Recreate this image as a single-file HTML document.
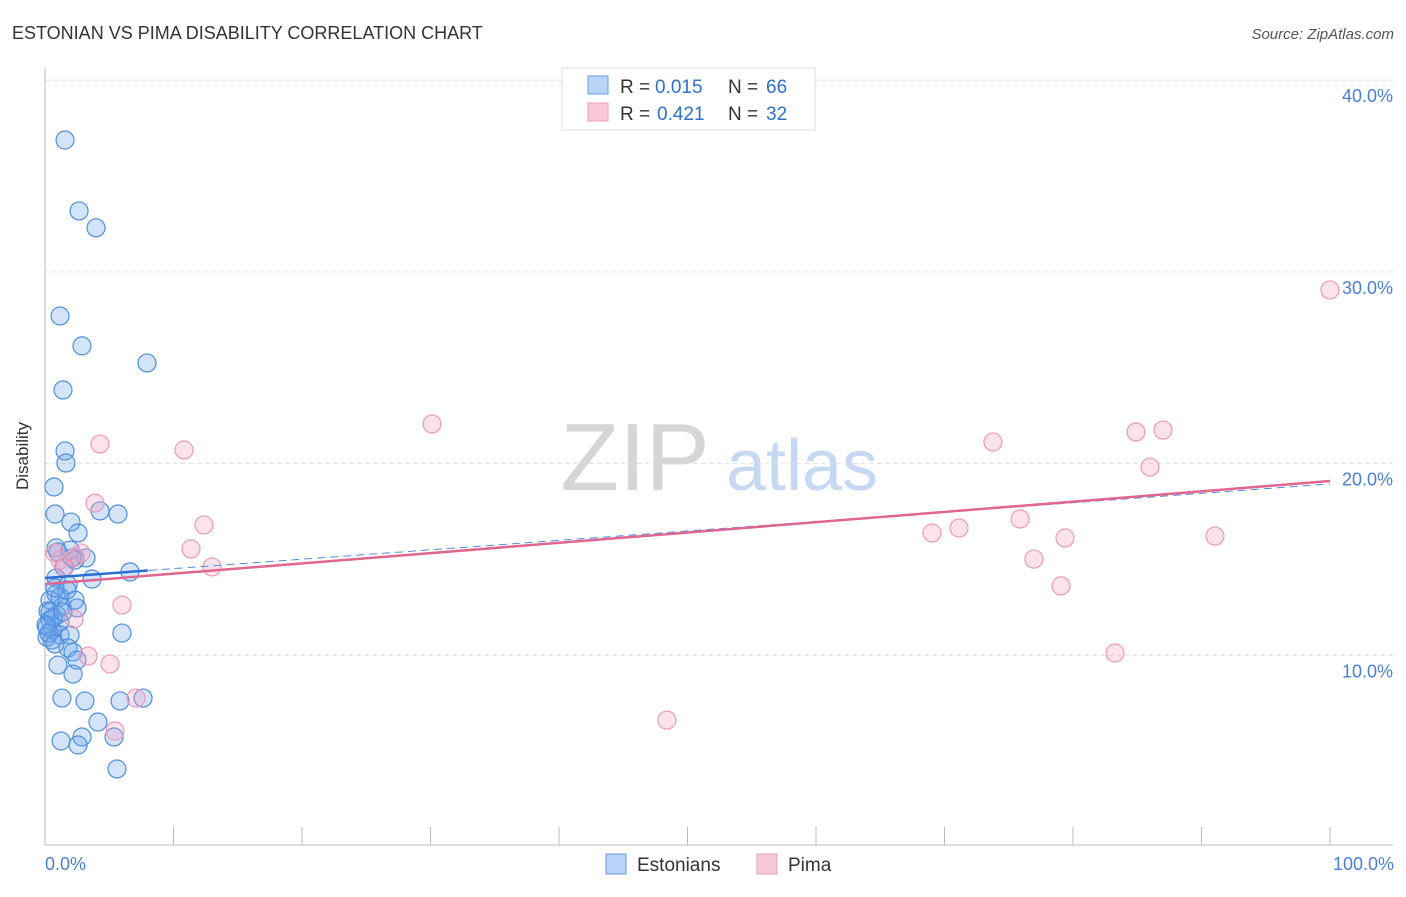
<!DOCTYPE html>
<html><head><meta charset="utf-8"><style>
body{margin:0;background:#fff;font-family:"Liberation Sans",sans-serif}
svg text{font-family:"Liberation Sans",sans-serif}
</style></head><body>
<svg id="chart" width="1406" height="892" viewBox="0 0 1406 892">
<text x="12" y="39" font-size="18" fill="#333">ESTONIAN VS PIMA DISABILITY CORRELATION CHART</text>
<text x="1394" y="39" font-size="15" fill="#555" font-style="italic" text-anchor="end">Source: ZipAtlas.com</text>
<g>
<text x="635" y="490" font-size="96" fill="#d6d6d6" font-family="Liberation Serif,serif" text-anchor="middle">ZIP</text>
<text x="802" y="490" font-size="72" fill="#c7d9f2" text-anchor="middle">atlas</text>
</g>
<g id="grid"></g>
<g id="axes"></g>
<g id="pts"></g>
<g id="lines"></g>
<text x="28" y="456" font-size="17" fill="#333" text-anchor="middle" transform="rotate(-90 28 456)">Disability</text>
<text x="45" y="870" font-size="18" fill="#4a7fd6">0.0%</text>
<text x="1394" y="870" font-size="18" fill="#4a7fd6" text-anchor="end">100.0%</text>
<g>
<rect x="562" y="68" width="253" height="62" fill="#fff" stroke="#ddd"/>
<rect x="588" y="76" width="20" height="18" fill="#b8d4f6" stroke="#6aa0e0"/>
<rect x="588" y="103" width="20" height="18" fill="#f9c8d8" stroke="#eba0ba"/>
<text x="620" y="93" font-size="19" fill="#333">R =</text>
<text x="655" y="93" font-size="19" fill="#2f6fd0">0.015</text>
<text x="728" y="93" font-size="19" fill="#333">N =</text>
<text x="766" y="93" font-size="19" fill="#2f6fd0">66</text>
<text x="620" y="120" font-size="19" fill="#333">R =</text>
<text x="657" y="120" font-size="19" fill="#2f6fd0">0.421</text>
<text x="728" y="120" font-size="19" fill="#333">N =</text>
<text x="766" y="120" font-size="19" fill="#2f6fd0">32</text>
</g>
<g>
<rect x="606" y="854" width="20" height="20" fill="#b8d4f6" stroke="#6aa0e0"/>
<text x="637" y="871" font-size="19" fill="#333">Estonians</text>
<rect x="757" y="854" width="20" height="20" fill="#f9c8d8" stroke="#eba0ba"/>
<text x="788" y="871" font-size="19" fill="#333">Pima</text>
</g>
</svg>
<script>
const yTicks=[10,20,30,40];
const yTickLabels=["10.0%","20.0%","30.0%","40.0%"];
const xTicks=[0,10,20,30,40,50,60,70,80,90,100];
const estX=[1.56,2.65,3.97,1.17,2.88,7.94,1.40,1.56,1.63,0.70,0.78,5.68,4.28,2.02,2.57,0.86,1.01,1.95,3.19,2.33,1.48,6.61,3.66,0.86,1.79,0.86,1.17,2.33,0.39,1.32,2.49,0.23,0.93,0.39,1.17,0.16,0.54,1.17,1.95,0.54,5.99,1.79,2.18,2.49,1.01,2.18,1.32,3.11,5.84,7.63,4.12,1.25,2.88,2.57,5.37,5.60,0.16,0.39,0.62,0.08,0.31,0.78,1.40,1.71,0.78,2.10];
const estY=[36.88,33.18,32.30,27.70,26.14,25.25,23.84,20.66,20.03,18.78,17.37,17.37,17.53,16.95,16.38,15.60,15.39,15.49,15.08,14.97,14.61,14.35,13.98,14.03,13.67,13.20,13.04,12.88,12.88,12.52,12.47,12.31,12.10,11.84,11.74,11.48,11.32,11.06,11.06,10.80,11.16,10.38,10.17,9.75,9.49,9.02,7.77,7.62,7.62,7.77,6.52,5.53,5.74,5.32,5.74,4.07,10.95,12.26,11.95,11.58,11.16,10.59,12.26,13.41,13.51,15.08];
const pimaX=[100,30.12,4.28,10.82,73.77,84.90,87.00,85.99,3.89,12.37,11.36,13.00,69.03,71.13,75.88,79.38,91.05,76.96,79.07,5.99,2.26,3.35,5.06,7.08,5.45,48.40,83.27,0.78,2.80,1.56,1.17,2.33];
const pimaY=[29.06,22.07,21.02,20.71,21.13,21.65,21.75,19.82,17.94,16.80,15.55,14.61,16.38,16.64,17.11,16.12,16.22,15.02,13.62,12.62,11.89,9.96,9.55,7.77,6.05,6.62,10.12,15.34,15.34,14.61,14.97,15.13];
const estTrend=[14.03,18.94];
const pimaTrend=[13.72,19.09];
const NS="http://www.w3.org/2000/svg";
const xs=v=>45+v*12.85, ys=v=>847-v*19.17;
function mk(tag,attrs,parent){const e=document.createElementNS(NS,tag);for(const k in attrs)e.setAttribute(k,attrs[k]);document.getElementById(parent).appendChild(e);return e;}
yTicks.forEach((t,i)=>{
 const l=mk('line',{x1:45,x2:1393,y1:ys(t),y2:ys(t),stroke:'#ddd','stroke-dasharray':'4,4'},'grid');
 
 
 const tx=mk('text',{x:1393,y:ys(t)+22,'font-size':18,fill:'#4a7fd6','text-anchor':'end'},'grid');
 tx.textContent=yTickLabels[i];
 
 
});
let a=mk('line',{x1:45,x2:45,y1:68,y2:845,stroke:'#bbb'},'axes');


a=mk('line',{x1:45,x2:1393,y1:845,y2:845,stroke:'#bbb'},'axes');


xTicks.slice(1).forEach(t=>{
 const l=mk('line',{x1:xs(t),x2:xs(t),y1:827,y2:845,stroke:'#bbb'},'axes');
 
 
});
estX.forEach((x,i)=>{
 const c=mk('circle',{cx:xs(x),cy:ys(estY[i]),r:9,fill:'rgba(110,165,235,0.3)',stroke:'#4d8ee0','stroke-width':1.2},'pts');
 
 
});
pimaX.forEach((x,i)=>{
 const c=mk('circle',{cx:xs(x),cy:ys(pimaY[i]),r:9,fill:'rgba(245,160,190,0.3)',stroke:'#eb9ab6','stroke-width':1.2},'pts');
 
 
});
let t=mk('line',{x1:xs(0),y1:ys(estTrend[0]),x2:xs(100),y2:ys(estTrend[1]),stroke:'#4d8ee0','stroke-width':1,'stroke-dasharray':'8,5'},'lines');


t=mk('line',{x1:xs(0),y1:ys(estTrend[0]),x2:xs(8),y2:ys(estTrend[0]+(estTrend[1]-estTrend[0])*0.08),stroke:'#2a6fd6','stroke-width':2.5},'lines');


t=mk('line',{x1:xs(0),y1:ys(pimaTrend[0]),x2:xs(100),y2:ys(pimaTrend[1]),stroke:'#e06690','stroke-width':2.5},'lines');


</script>
</body></html>
